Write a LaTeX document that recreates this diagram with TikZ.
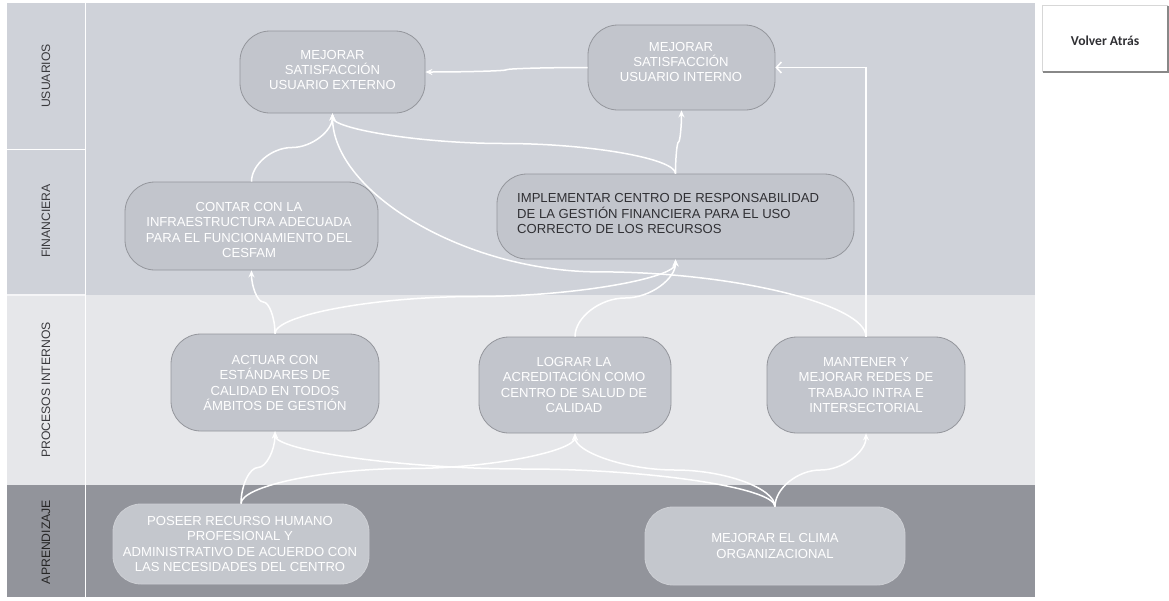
\documentclass[tikz,border=0pt]{standalone}
\usepackage{fontspec}
\setmainfont{Liberation Sans}
\newfontfamily\btnfont{Carlito}
\usetikzlibrary{calc,arrows.meta}

\definecolor{bandTop}{RGB}{207,210,217}
\definecolor{bandMid}{RGB}{230,231,234}
\definecolor{bandLow}{RGB}{146,148,155}
\definecolor{boxFill}{RGB}{194,197,204}
\definecolor{boxLine}{RGB}{148,150,156}
\definecolor{lowFill}{RGB}{196,199,205}
\definecolor{laneText}{RGB}{58,58,62}
\definecolor{darkText}{RGB}{48,48,52}
\definecolor{btnShadow}{RGB}{136,136,136}
\definecolor{btnEdge}{RGB}{215,215,215}

\tikzset{
  objbox/.style={draw=boxLine, line width=0.8pt, fill=boxFill,
                 rounded corners=30pt, inner sep=0pt},
  lowbox/.style={draw=lowFill!85!white, line width=0.8pt, fill=lowFill,
                 rounded corners=28pt, inner sep=0pt},
  objtext/.style={text=white, align=center, inner sep=0pt,
                  font=\fontsize{13.1}{15.3}\selectfont},
  lanetext/.style={rotate=90, text=laneText, inner sep=0pt,
                   font=\fontsize{12.2}{14}\selectfont},
  conn/.style={draw=white, line width=1.5pt,
               -{Stealth[length=7pt,width=6pt]}},
}

% vertical curved connector (S-shape, horizontal tangent at the middle)
\newcommand\vconn[4][]{%
  \draw[conn,#1] let \p1=(#2), \p2=(#3),
    \n1={\y1+#4*(\y2-\y1)}, \n2={(\y1+\n1)/2}, \n3={(\n1+\y2)/2},
    \n4={\x1+(\x2-\x1)/4}, \n5={(\x1+\x2)/2}, \n6={\x1+3*(\x2-\x1)/4} in
    (\p1) .. controls (\x1,\n2) and (\n4,\n1) .. (\n5,\n1)
          .. controls (\n6,\n1) and (\x2,\n3) .. (\p2);}
% horizontal curved connector (vertical tangent at the middle)
\newcommand\hconn[4][]{%
  \draw[conn,#1] let \p1=(#2), \p2=(#3),
    \n1={\x1+#4*(\x2-\x1)}, \n2={(\x1+\n1)/2}, \n3={(\n1+\x2)/2},
    \n4={\y1+(\y2-\y1)/4}, \n5={(\y1+\y2)/2}, \n6={\y1+3*(\y2-\y1)/4} in
    (\p1) .. controls (\n2,\y1) and (\n1,\n4) .. (\n1,\n5)
          .. controls (\n1,\n6) and (\n3,\y2) .. (\p2);}

\begin{document}
\begin{tikzpicture}[x=1pt,y=-1pt]
\useasboundingbox[fill=white] (0,0) rectangle (1169,600);

% lanes
\fill[bandTop] (7,3) rectangle (1035,295);
\fill[bandMid] (7,295) rectangle (1035,485);
\fill[bandLow] (7,485) rectangle (1035,597);
\draw[white, line width=1.5pt] (85.5,3) -- (85.5,597);
\draw[white, line width=1.5pt] (7,149.5) -- (85,149.5);
\draw[white!60!bandMid, line width=1.2pt] (7,295) -- (85,295);

\node[lanetext] (l1) at (46,76) {USUARIOS};
\node[lanetext] (l2) at (46,221) {FINANCIERA};
\node[lanetext] (l3) at (46,390) {PROCESOS INTERNOS};
\node[lanetext, text=black!85] (l4) at (46,542) {APRENDIZAJE};

% objective boxes
\node[objbox, minimum width=185pt, minimum height=82pt] (ext) at (332.5,72) {};
\node[objbox, minimum width=187pt, minimum height=85pt] (int) at (681.5,67.5) {};
\node[objbox, minimum width=253pt, minimum height=88pt] (con) at (251.5,226) {};
\node[objbox, minimum width=357pt, minimum height=85pt] (imp) at (675.5,216.5) {};
\node[objbox, minimum width=208pt, minimum height=97pt] (act) at (275,382.5) {};
\node[objbox, minimum width=192pt, minimum height=96pt] (log) at (575,385) {};
\node[objbox, minimum width=198pt, minimum height=96pt] (man) at (866,385) {};
\node[lowbox, minimum width=256pt, minimum height=80pt] (pos) at (241,544) {};
\node[lowbox, minimum width=260pt, minimum height=78pt] (cli) at (775,546) {};

% box texts
\node[objtext] (extT) at (332.5,70) {MEJORAR\\SATISFACCIÓN\\USUARIO EXTERNO};
\node[objtext] (intT) at (681,62) {MEJORAR\\SATISFACCIÓN\\USUARIO INTERNO};
\node[objtext] (conT) at (249,230) {CONTAR CON LA\\INFRAESTRUCTURA ADECUADA\\PARA EL FUNCIONAMIENTO DEL\\CESFAM};
\node[objtext, text=darkText, align=left, anchor=west] (impT) at (517,213.5)
  {IMPLEMENTAR CENTRO DE RESPONSABILIDAD\\DE LA GESTIÓN FINANCIERA PARA EL USO\\CORRECTO DE LOS RECURSOS};
\node[objtext] (actT) at (275,383) {ACTUAR CON\\ESTÁNDARES DE\\CALIDAD EN TODOS\\ÁMBITOS DE GESTIÓN};
\node[objtext] (logT) at (574,385) {LOGRAR LA\\ACREDITACIÓN COMO\\CENTRO DE SALUD DE\\CALIDAD};
\node[objtext] (manT) at (866,385) {MANTENER Y\\MEJORAR REDES DE\\TRABAJO INTRA E\\INTERSECTORIAL};
\node[objtext] (posT) at (240,544) {POSEER RECURSO HUMANO\\PROFESIONAL Y\\ADMINISTRATIVO DE ACUERDO CON\\LAS NECESIDADES DEL CENTRO};
\node[objtext] (cliT) at (775,546) {MEJORAR EL CLIMA\\ORGANIZACIONAL};

% connectors
\hconn{int.west}{ext.east}{0.5}
\vconn{imp.north}{int.south}{0.5}
\vconn{imp.north}{ext.south}{0.5}
\vconn{con.north}{ext.south}{0.5}
\vconn{man.north}{ext.south}{0.29}
\draw[conn, -{Straight Barb[length=5pt,width=11pt]}] (man.north) |- (int.east);
\vconn{act.north}{con.south}{0.5}
\vconn{act.north}{imp.south}{0.5}
\vconn{log.north}{imp.south}{0.5}
\vconn{pos.north}{act.south}{0.5}
\vconn{pos.north}{log.south}{0.5}
\vconn{cli.north}{act.south}{0.5}
\vconn{cli.north}{log.south}{0.5}
\vconn{cli.north}{man.south}{0.5}

% back button
\node[fill=white, minimum width=125pt, minimum height=66pt, inner sep=0pt] (back) at (1105.5,39) {};
\draw[btnEdge, line width=0.8pt] (back.south west) -- (back.north west) -- (back.north east);
\draw[btnShadow, line width=2pt] (back.north east) -- (back.south east) -- (back.south west);
\node[font=\btnfont\bfseries\fontsize{13.6}{16}\selectfont, text=darkText] (backT) at (1105,41) {Volver Atrás};
\end{tikzpicture}
\end{document}
